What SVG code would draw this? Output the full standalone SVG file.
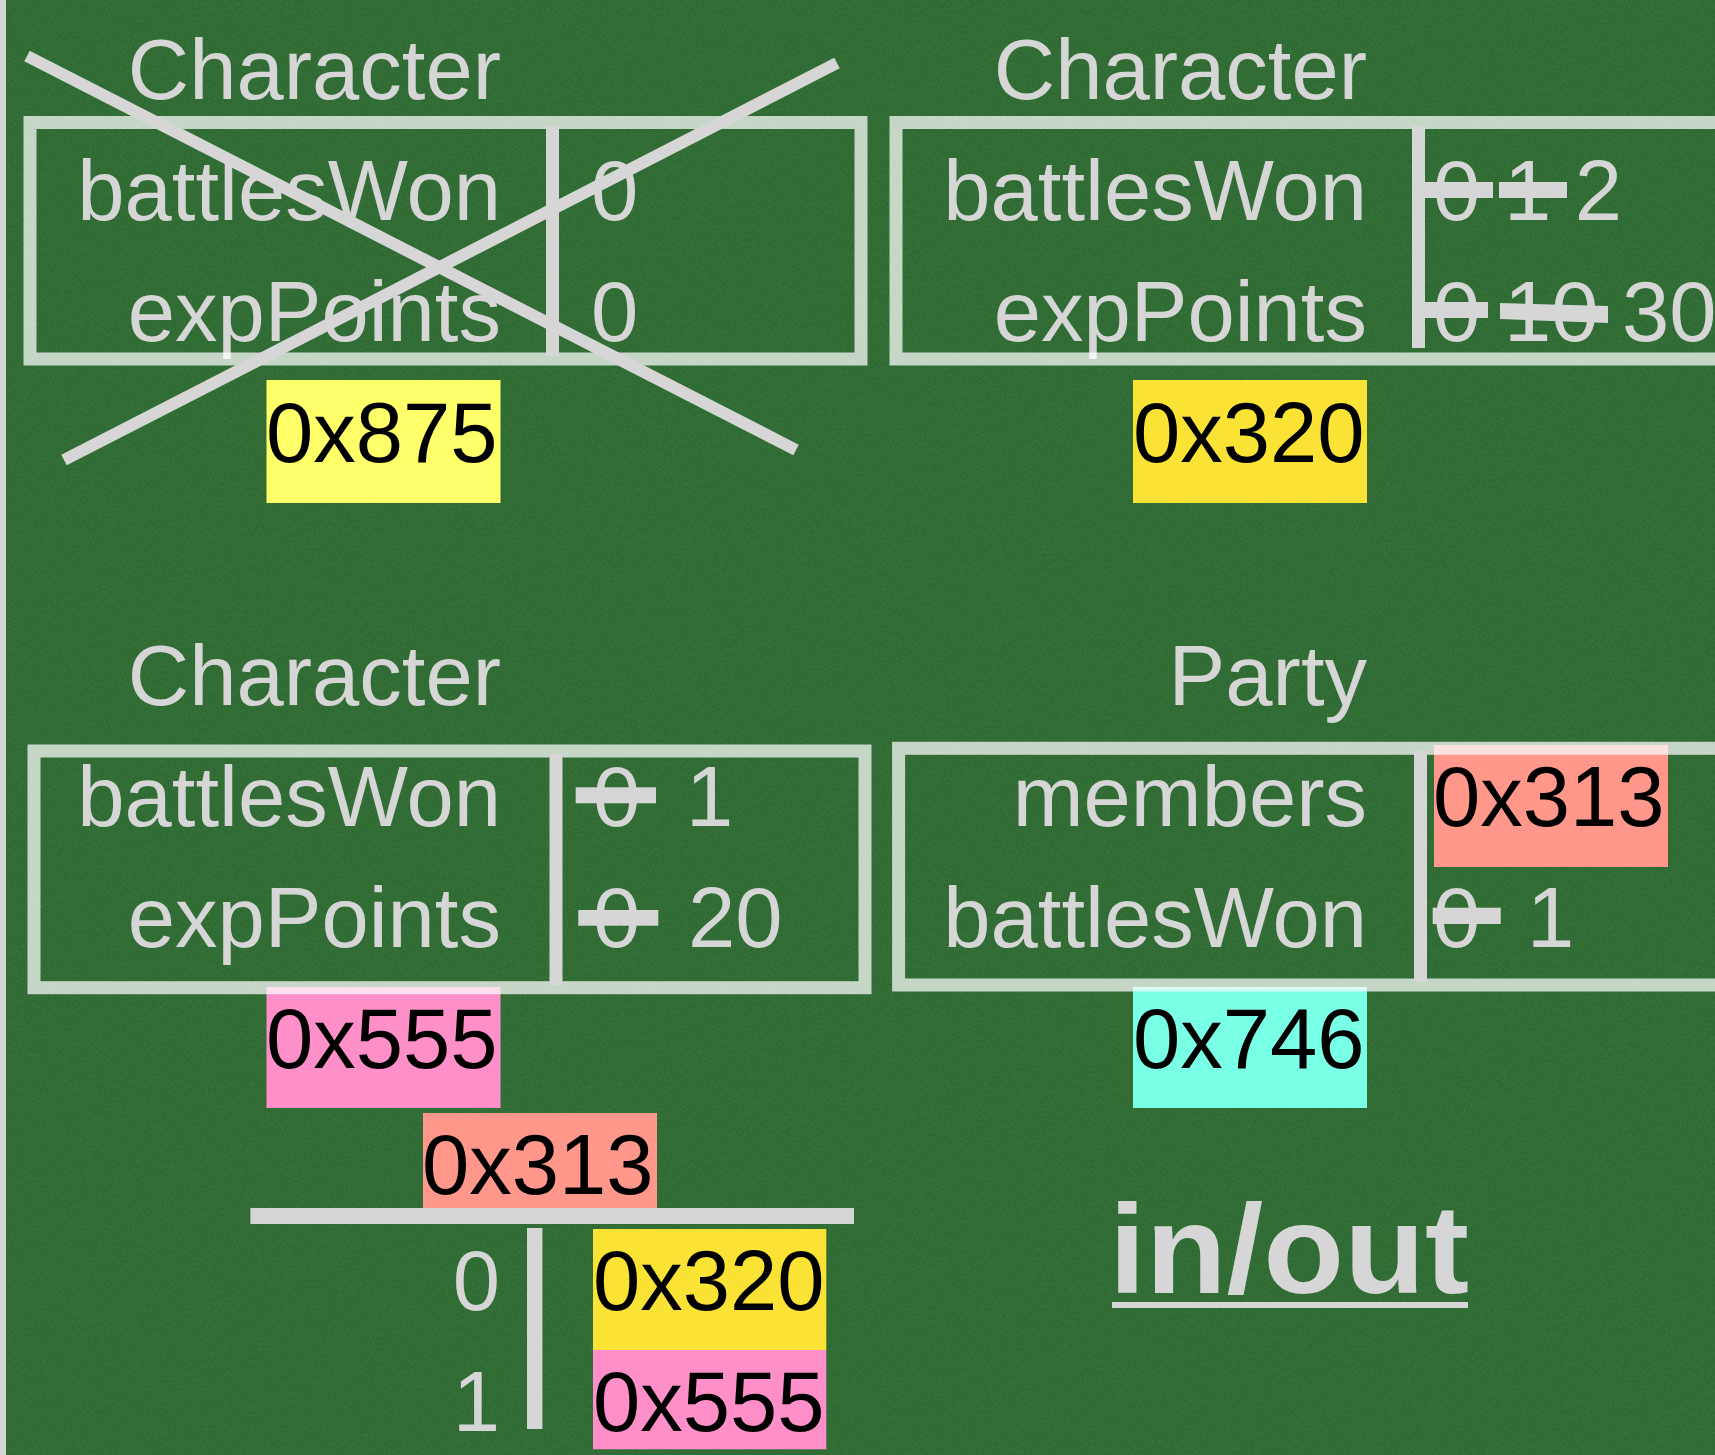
<svg xmlns="http://www.w3.org/2000/svg" width="1715" height="1455" viewBox="0 0 1715 1455">
<style>
.t{font-family:"Liberation Sans",Arial,sans-serif;font-size:85px;fill:#d6d6d6}
.e{text-anchor:end}
.k{font-family:"Liberation Sans",Arial,sans-serif;font-size:85px;fill:#000}
.box{fill:none;stroke:#fff;stroke-opacity:0.72;stroke-width:13}
.ln{fill:#d6d6d6}
.x{stroke:#d6d6d6;stroke-width:12;stroke-linecap:butt}
</style>
<defs>
  <filter id="grain" x="0" y="0" width="100%" height="100%">
    <feTurbulence type="fractalNoise" baseFrequency="0.7 0.35" numOctaves="3" seed="7" result="n"/>
    <feColorMatrix in="n" type="matrix" values="0 0 0 0 0.12  0 0 0 0 0.3  0 0 0 0 0.12  0.5 0 0 0 -0.2"/>
  </filter>
</defs>
<rect x="0" y="0" width="1715" height="1455" fill="#2f6a33"/>
<rect x="0" y="0" width="1715" height="1455" filter="url(#grain)"/>
<rect x="0" y="0" width="6" height="1455" fill="#d6d6d6"/>

<g id="char-875">
  <text class="t e" x="501" y="99">Character</text>
  <rect x="266.5" y="380" width="234" height="123" fill="#ffff69"/>
  <text class="k" x="266" y="462">0x875</text>
  <text class="t e" x="501" y="220">battlesWon</text>
  <text class="t e" x="501" y="341">expPoints</text>
  <text class="t" x="591" y="220">0</text>
  <text class="t" x="591" y="341">0</text>
  <rect class="box" x="30" y="122.5" width="831" height="236.5"/>
  <rect class="ln" x="546" y="126" width="13" height="230"/>
  <line class="x" x1="27" y1="56" x2="796" y2="450"/>
  <line class="x" x1="837" y1="63" x2="64" y2="460"/>
</g>

<g id="char-320">
  <text class="t e" x="1367" y="99">Character</text>
  <rect x="1133" y="380" width="234" height="123" fill="#fae334"/>
  <text class="k" x="1133" y="462">0x320</text>
  <text class="t e" x="1367" y="220">battlesWon</text>
  <text class="t e" x="1367" y="341">expPoints</text>
  <text class="t" x="1433" y="220">0 1 2</text>
  <text class="t" x="1433" y="341">0 10 30</text>
  <rect class="box" x="896" y="122.5" width="900" height="236.5"/>
  <rect class="ln" x="1412" y="126" width="13" height="222"/>
  <rect class="ln" x="1425" y="182" width="68" height="16"/>
  <rect class="ln" x="1499" y="182" width="68" height="16"/>
  <rect class="ln" x="1425" y="302" width="63" height="16"/>
  <polygon class="ln" points="1500,303 1608,306 1608,323 1500,319"/>
</g>

<g id="char-555">
  <text class="t e" x="501" y="705">Character</text>
  <rect x="266.5" y="987" width="234" height="121" fill="#ff8fc8"/>
  <text class="k" x="266" y="1068">0x555</text>
  <text class="t e" x="501" y="826">battlesWon</text>
  <text class="t e" x="501" y="947">expPoints</text>
  <text class="t" x="593" y="826">0</text>
  <text class="t" x="686" y="826">1</text>
  <text class="t" x="593" y="947">0</text>
  <text class="t" x="688" y="947">20</text>
  <rect class="box" x="34" y="751" width="831" height="236.7"/>
  <rect class="ln" x="549.5" y="754" width="13" height="231"/>
  <rect class="ln" x="575.7" y="787.3" width="80.3" height="16"/>
  <rect class="ln" x="578.3" y="910" width="80" height="15.7"/>
</g>

<g id="party-746">
  <text class="t e" x="1367" y="705">Party</text>
  <rect x="1434" y="745" width="234" height="122" fill="#ff978b"/>
  <text class="k" x="1433" y="826">0x313</text>
  <rect x="1133" y="987" width="234" height="121" fill="#78ffe6"/>
  <text class="k" x="1133" y="1068">0x746</text>
  <text class="t e" x="1367" y="826">members</text>
  <text class="t e" x="1367" y="947">battlesWon</text>
  <text class="t" x="1433" y="947">0</text>
  <text class="t" x="1527" y="947">1</text>
  <rect class="box" x="898.6" y="748.3" width="900" height="236.7"/>
  <rect class="ln" x="1414" y="750.7" width="13" height="231"/>
  <rect class="ln" x="1432.7" y="907.7" width="68" height="16.3"/>
</g>

<g id="array-313">
  <rect x="423" y="1113" width="234" height="103" fill="#ff978b"/>
  <text class="k" x="422" y="1194">0x313</text>
  <rect class="ln" x="250.4" y="1208" width="603.6" height="16"/>
  <rect class="ln" x="527" y="1228" width="15.4" height="201"/>
  <text class="t e" x="500" y="1310">0</text>
  <text class="t e" x="500" y="1431">1</text>
  <rect x="593" y="1229" width="233.3" height="121" fill="#fae334"/>
  <text class="k" x="593" y="1310">0x320</text>
  <rect x="593" y="1350" width="233.3" height="99.3" fill="#ff8fc8"/>
  <text class="k" x="593" y="1431">0x555</text>
</g>

<g id="inout">
  <text x="1109" y="1293" textLength="360" lengthAdjust="spacingAndGlyphs" style="font-family:'Liberation Sans',Arial,sans-serif;font-size:127px;font-weight:bold;fill:#d6d6d6">in/out</text>
  <rect class="ln" x="1112" y="1302" width="356" height="6"/>
</g>
</svg>
